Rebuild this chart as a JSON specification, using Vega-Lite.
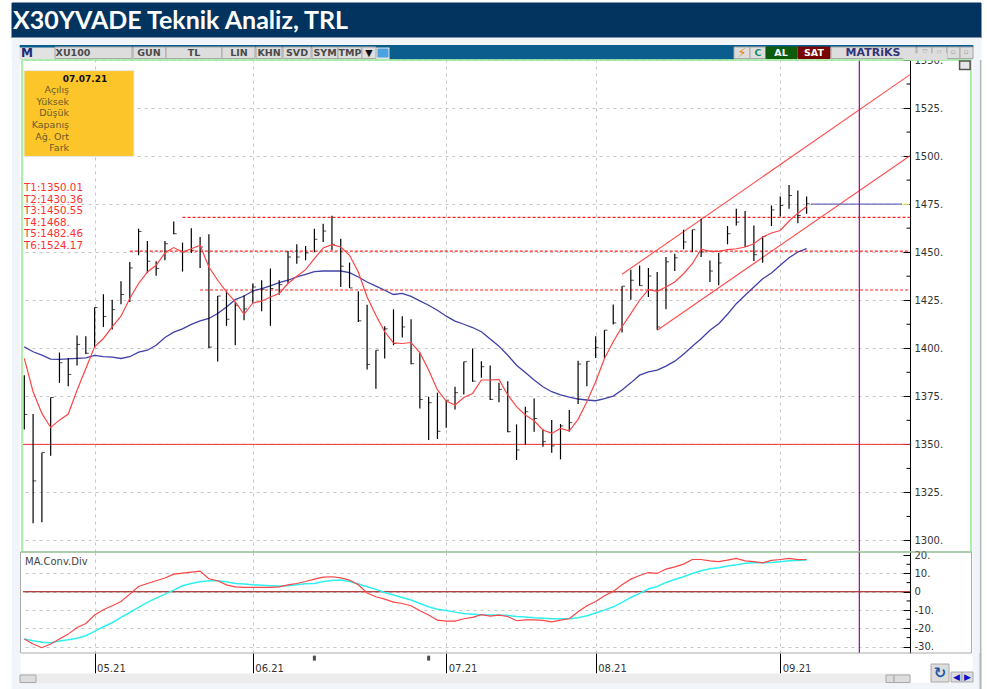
{"$schema":"https://vega.github.io/schema/vega-lite/v6.json","padding":{"left":11,"top":0,"right":7,"bottom":0},"background":"white","bounds":"flush","spacing":0,"resolve":{"scale":{"fill":"independent","stroke":"independent","color":"independent"}},"config":{"view":{"stroke":null},"concat":{"spacing":0},"axis":{"labelFont":"DejaVu Sans","labelFontSize":10,"labelColor":"#333333","labelBound":false,"labelFlush":false,"labelOverlap":false,"domainColor":"#000000","tickColor":"#000000","gridColor":"#c6c6c6","gridDash":[3,4]}},
"datasets":{
"bars":[
{"day":0,"high":1386,"low":1357.8,"close":1365.6,"fast":1394.7,"slow":1400.7,"macd":-25.8,"signal":-25.8},
{"day":1,"high":1365.8,"low":1309,"close":1331,"fast":1377.4,"slow":1398.2,"macd":-28.5,"signal":-26.7},
{"day":2,"high":1345.7,"low":1309.5,"close":1345.7,"fast":1366.1,"slow":1396.4,"macd":-30.5,"signal":-27.5},
{"day":3,"high":1374.4,"low":1344.1,"close":1374.4,"fast":1358.8,"slow":1394.4,"macd":-28.5,"signal":-27.8},
{"day":4,"high":1397.8,"low":1382,"close":1392.5,"fast":1362.6,"slow":1394.2,"macd":-25.8,"signal":-26.9},
{"day":5,"high":1395,"low":1380.3,"close":1386.4,"fast":1365.8,"slow":1394.5,"macd":-23.1,"signal":-26.2},
{"day":6,"high":1406.6,"low":1391,"close":1402,"fast":1378.2,"slow":1394.7,"macd":-19.5,"signal":-25.3},
{"day":7,"high":1406.3,"low":1397,"close":1397.4,"fast":1389.5,"slow":1395,"macd":-17.3,"signal":-24},
{"day":8,"high":1421.2,"low":1400.4,"close":1421.2,"fast":1400.8,"slow":1396.3,"macd":-12.7,"signal":-21.6},
{"day":9,"high":1428.1,"low":1411.1,"close":1416.5,"fast":1405.1,"slow":1395.7,"macd":-9.8,"signal":-19.1},
{"day":10,"high":1425.3,"low":1409.8,"close":1420.1,"fast":1411.1,"slow":1395.4,"macd":-7.6,"signal":-16.9},
{"day":11,"high":1434.9,"low":1422.9,"close":1428,"fast":1416.7,"slow":1394.7,"macd":-5.3,"signal":-14},
{"day":12,"high":1444.9,"low":1424.1,"close":1441.8,"fast":1425.9,"slow":1395.6,"macd":-1.3,"signal":-11.3},
{"day":13,"high":1462.2,"low":1448.4,"close":1460.8,"fast":1433.7,"slow":1398,"macd":2.9,"signal":-8.5},
{"day":14,"high":1455.8,"low":1439.2,"close":1445.3,"fast":1439.7,"slow":1399,"macd":4.5,"signal":-5.8},
{"day":15,"high":1445.3,"low":1437.8,"close":1441.6,"fast":1443.2,"slow":1401.6,"macd":6,"signal":-3.5},
{"day":16,"high":1455.8,"low":1445.8,"close":1454.4,"fast":1449.6,"slow":1405.6,"macd":7.5,"signal":-1.3},
{"day":17,"high":1466,"low":1459.3,"close":1459.6,"fast":1452.4,"slow":1408.4,"macd":9.6,"signal":0.9},
{"day":18,"high":1455,"low":1439.9,"close":1450.1,"fast":1450.1,"slow":1410.1,"macd":10.2,"signal":3.3},
{"day":19,"high":1462.4,"low":1449.6,"close":1451,"fast":1451.8,"slow":1412.4,"macd":10.7,"signal":4.5},
{"day":20,"high":1457.9,"low":1441.8,"close":1452.7,"fast":1453.6,"slow":1414.2,"macd":11.3,"signal":5.5},
{"day":21,"high":1459.3,"low":1400.2,"close":1400.6,"fast":1442.3,"slow":1415.5,"macd":7.1,"signal":6},
{"day":22,"high":1427.2,"low":1393.1,"close":1427.2,"fast":1435.4,"slow":1418.1,"macd":6,"signal":6},
{"day":23,"high":1429.9,"low":1411.7,"close":1415.1,"fast":1429.3,"slow":1421.5,"macd":3.8,"signal":5.5},
{"day":24,"high":1424.1,"low":1401.6,"close":1422.4,"fast":1424.1,"slow":1425.3,"macd":2.7,"signal":4.5},
{"day":25,"high":1427.6,"low":1414.6,"close":1420.5,"fast":1417.7,"slow":1427.2,"macd":2.4,"signal":4.2},
{"day":26,"high":1433.7,"low":1423.3,"close":1431.9,"fast":1423.6,"slow":1429.8,"macd":2.4,"signal":3.8},
{"day":27,"high":1435.4,"low":1419.3,"close":1430.7,"fast":1424.5,"slow":1431.1,"macd":2.4,"signal":3.6},
{"day":28,"high":1441.5,"low":1411.7,"close":1431.1,"fast":1426.7,"slow":1432.5,"macd":2.4,"signal":3.3},
{"day":29,"high":1435.4,"low":1427.9,"close":1433.1,"fast":1428.5,"slow":1434.2,"macd":2.7,"signal":3.1},
{"day":30,"high":1450.6,"low":1433.7,"close":1447.5,"fast":1433.7,"slow":1435.4,"macd":3.8,"signal":3.3},
{"day":31,"high":1454.1,"low":1444,"close":1447.5,"fast":1437.5,"slow":1437.1,"macd":4.5,"signal":3.8},
{"day":32,"high":1453.2,"low":1445.8,"close":1449.6,"fast":1440.9,"slow":1438.5,"macd":5.6,"signal":4.4},
{"day":33,"high":1462.2,"low":1450.1,"close":1456.7,"fast":1446.6,"slow":1439.9,"macd":6.9,"signal":4.5},
{"day":34,"high":1464.8,"low":1455.3,"close":1461,"fast":1452.2,"slow":1440.2,"macd":8,"signal":5.6},
{"day":35,"high":1469,"low":1451,"close":1454.1,"fast":1453.9,"slow":1440.2,"macd":8.2,"signal":6.2},
{"day":36,"high":1457,"low":1431.9,"close":1442.7,"fast":1452.7,"slow":1440.2,"macd":7.6,"signal":6.4},
{"day":37,"high":1444.6,"low":1431.4,"close":1431.4,"fast":1448.4,"slow":1439.4,"macd":6.4,"signal":5.6},
{"day":38,"high":1429.7,"low":1413.7,"close":1414.3,"fast":1439.7,"slow":1437.1,"macd":3.8,"signal":4.2},
{"day":39,"high":1422.7,"low":1389,"close":1391.6,"fast":1426.7,"slow":1434.5,"macd":-0.7,"signal":2.7},
{"day":40,"high":1399,"low":1379,"close":1399,"fast":1417.2,"slow":1432.3,"macd":-2.7,"signal":1.3},
{"day":41,"high":1411.5,"low":1394.7,"close":1410.1,"fast":1408.6,"slow":1430.2,"macd":-4,"signal":-0.4},
{"day":42,"high":1420.3,"low":1401.6,"close":1402.5,"fast":1402.8,"slow":1428,"macd":-5.6,"signal":-1.8},
{"day":43,"high":1416.7,"low":1405.6,"close":1411.1,"fast":1402.5,"slow":1428.6,"macd":-6.4,"signal":-3.1},
{"day":44,"high":1415.1,"low":1391.7,"close":1392,"fast":1403,"slow":1427,"macd":-7.6,"signal":-4.5},
{"day":45,"high":1397.7,"low":1368.7,"close":1373.4,"fast":1397.7,"slow":1424.7,"macd":-10.4,"signal":-6.4},
{"day":46,"high":1374.8,"low":1352.3,"close":1371.7,"fast":1388.7,"slow":1422.4,"macd":-12.7,"signal":-8.2},
{"day":47,"high":1376.9,"low":1352.8,"close":1356.8,"fast":1378.3,"slow":1419.8,"macd":-15.5,"signal":-9.5},
{"day":48,"high":1373,"low":1358.7,"close":1373,"fast":1372.5,"slow":1416.7,"macd":-16,"signal":-10.2},
{"day":49,"high":1380,"low":1368.2,"close":1376.9,"fast":1370.5,"slow":1414.1,"macd":-16,"signal":-11.1},
{"day":50,"high":1393,"low":1376,"close":1393,"fast":1374.4,"slow":1412.5,"macd":-14.7,"signal":-11.8},
{"day":51,"high":1399.9,"low":1382.6,"close":1382.9,"fast":1376.5,"slow":1410.8,"macd":-14,"signal":-12.2},
{"day":52,"high":1393.2,"low":1384.7,"close":1390.4,"fast":1383.5,"slow":1408.6,"macd":-12.5,"signal":-12.5},
{"day":53,"high":1391.1,"low":1373.1,"close":1373.4,"fast":1383.5,"slow":1404.8,"macd":-13.3,"signal":-12.7},
{"day":54,"high":1382.1,"low":1371.9,"close":1378.6,"fast":1383.8,"slow":1401.1,"macd":-12.7,"signal":-12.7},
{"day":55,"high":1382.9,"low":1356.3,"close":1356.6,"fast":1375.7,"slow":1396.4,"macd":-13.5,"signal":-12.9},
{"day":56,"high":1360.4,"low":1341.9,"close":1347.1,"fast":1369.6,"slow":1391.2,"macd":-15.8,"signal":-13.5},
{"day":57,"high":1369.6,"low":1350,"close":1367,"fast":1365.3,"slow":1387.4,"macd":-15.3,"signal":-13.8},
{"day":58,"high":1373.9,"low":1356.6,"close":1363.5,"fast":1362.3,"slow":1383.5,"macd":-15.3,"signal":-14.2},
{"day":59,"high":1358,"low":1348.8,"close":1351.4,"fast":1357.5,"slow":1380,"macd":-15.6,"signal":-14.4},
{"day":60,"high":1362.7,"low":1345.7,"close":1349.2,"fast":1355.7,"slow":1377.4,"macd":-16.4,"signal":-14.7},
{"day":61,"high":1360.6,"low":1342.2,"close":1359.6,"fast":1358.3,"slow":1375.8,"macd":-15.5,"signal":-14.7},
{"day":62,"high":1367.9,"low":1356.6,"close":1361.3,"fast":1357,"slow":1374.6,"macd":-14.7,"signal":-14.7},
{"day":63,"high":1393.5,"low":1371,"close":1391.8,"fast":1363,"slow":1373.6,"macd":-10.9,"signal":-14.2},
{"day":64,"high":1393.2,"low":1380.3,"close":1393.2,"fast":1372.2,"slow":1373.1,"macd":-7.6,"signal":-13.1},
{"day":65,"high":1406.2,"low":1395,"close":1400.3,"fast":1382.6,"slow":1372.7,"macd":-5.3,"signal":-11.6},
{"day":66,"high":1409.4,"low":1394.7,"close":1409.4,"fast":1394.7,"slow":1373.8,"macd":-2.2,"signal":-10},
{"day":67,"high":1422.8,"low":1412.4,"close":1413.2,"fast":1403.4,"slow":1375.1,"macd":0.2,"signal":-8.2},
{"day":68,"high":1432.3,"low":1408.2,"close":1432.3,"fast":1411.2,"slow":1378.3,"macd":3.8,"signal":-5.8},
{"day":69,"high":1440.9,"low":1425.3,"close":1435.4,"fast":1418,"slow":1382,"macd":6.9,"signal":-3.1},
{"day":70,"high":1443.1,"low":1432.6,"close":1432.6,"fast":1425,"slow":1386,"macd":8.9,"signal":-0.9},
{"day":71,"high":1441.8,"low":1426.7,"close":1437.6,"fast":1430.5,"slow":1387.7,"macd":10.5,"signal":1.5},
{"day":72,"high":1439.7,"low":1409.7,"close":1411.1,"fast":1429.6,"slow":1388.6,"macd":10,"signal":2.9},
{"day":73,"high":1447.5,"low":1420.3,"close":1445,"fast":1431.9,"slow":1390.7,"macd":12.4,"signal":5.1},
{"day":74,"high":1449.2,"low":1440.2,"close":1447.1,"fast":1434.5,"slow":1393.3,"macd":13.6,"signal":6.7},
{"day":75,"high":1461.7,"low":1451.5,"close":1455.3,"fast":1438.8,"slow":1396.9,"macd":15.1,"signal":8.2},
{"day":76,"high":1461.7,"low":1450.1,"close":1461.7,"fast":1444,"slow":1401.1,"macd":17.6,"signal":10},
{"day":77,"high":1467.4,"low":1447.5,"close":1450.1,"fast":1451.6,"slow":1405,"macd":17.6,"signal":11.5},
{"day":78,"high":1445.7,"low":1434.5,"close":1440.2,"fast":1450.4,"slow":1409.4,"macd":16.9,"signal":12.5},
{"day":79,"high":1449.6,"low":1432.8,"close":1444.4,"fast":1450.4,"slow":1412.8,"macd":16.5,"signal":13.1},
{"day":80,"high":1463.6,"low":1454.1,"close":1459.6,"fast":1451.3,"slow":1417.7,"macd":17.3,"signal":14},
{"day":81,"high":1472.6,"low":1463.9,"close":1465.7,"fast":1451.8,"slow":1423.2,"macd":18.2,"signal":14.7},
{"day":82,"high":1471.4,"low":1452.7,"close":1453,"fast":1452.7,"slow":1427.6,"macd":16.9,"signal":15.5},
{"day":83,"high":1463.9,"low":1445.4,"close":1448.7,"fast":1454.4,"slow":1431.9,"macd":16.4,"signal":15.8},
{"day":84,"high":1458.2,"low":1444.5,"close":1458.2,"fast":1457.9,"slow":1436.2,"macd":15.8,"signal":15.8},
{"day":85,"high":1474.3,"low":1463.6,"close":1472,"fast":1460,"slow":1439.2,"macd":17.1,"signal":16},
{"day":86,"high":1479,"low":1468.6,"close":1474.3,"fast":1461.3,"slow":1443.2,"macd":17.6,"signal":16.4},
{"day":87,"high":1485,"low":1472.6,"close":1479.5,"fast":1466.2,"slow":1447.1,"macd":18.2,"signal":16.9},
{"day":88,"high":1482.1,"low":1465.1,"close":1469.1,"fast":1470.3,"slow":1450.1,"macd":17.5,"signal":17.1},
{"day":89,"high":1479,"low":1470,"close":1475.2,"fast":1473.8,"slow":1451.8,"macd":17.6,"signal":17.3}
],
"supports":[{"name":"T2","level":1430.36,"from":20,"to":100.76},{"name":"T3","level":1450.55,"from":12,"to":100.76},{"name":"T4","level":1468.1,"from":18,"to":100.76}],
"base":[{"name":"T1","level":1350.01,"from":-0.148,"to":100.76}],
"trend":[{"line":"upper","day":68,"price":1438.5},{"line":"upper","day":100.76,"price":1542.4},{"line":"lower","day":72,"price":1409.4},{"line":"lower","day":100.76,"price":1500.2}],
"minorPrice":[{"v":1312.5},{"v":1337.5},{"v":1362.5},{"v":1387.5},{"v":1412.5},{"v":1437.5},{"v":1462.5},{"v":1487.5},{"v":1512.5},{"v":1537.5}],
"minorMacd":[{"v":15},{"v":5},{"v":-5},{"v":-15},{"v":-25}],
"sides":[{"from":-1.4,"to":-0.49},{"from":107.9,"to":108.75}],
"edge":[{"day":108.8}],
"marker":[{"day":33},{"day":46}],
"topRects":[
{"k":"banner","x0":11,"x1":980,"y0":3,"y1":38},
{"k":"page","x0":11,"x1":980,"y0":38,"y1":60},
{"k":"bar","x0":19,"x1":972,"y0":46,"y1":59},
{"k":"teal","x0":19,"x1":972,"y0":45.5,"y1":47},
{"k":"teal","x0":389,"x1":733,"y0":47,"y1":59},
{"k":"button","x0":54,"x1":131,"y0":47,"y1":58.5},
{"k":"button","x0":132,"x1":165,"y0":47,"y1":58.5},
{"k":"button","x0":165,"x1":221,"y0":47,"y1":58.5},
{"k":"button","x0":221,"x1":254,"y0":47,"y1":58.5},
{"k":"button","x0":255,"x1":281,"y0":47,"y1":58.5},
{"k":"button","x0":282,"x1":310,"y0":47,"y1":58.5},
{"k":"button","x0":311,"x1":337,"y0":47,"y1":58.5},
{"k":"button","x0":337,"x1":361,"y0":47,"y1":58.5},
{"k":"button","x0":361,"x1":375,"y0":47,"y1":58.5},
{"k":"sky","x0":377,"x1":387,"y0":49,"y1":57},
{"k":"button","x0":733,"x1":749,"y0":47,"y1":58.5},
{"k":"button","x0":749,"x1":765,"y0":47,"y1":58.5},
{"k":"al","x0":765,"x1":796,"y0":47,"y1":58.5},
{"k":"sat","x0":797,"x1":829,"y0":47,"y1":58.5},
{"k":"button","x0":830,"x1":915,"y0":47,"y1":58.5},
{"k":"button","x0":916,"x1":931,"y0":47,"y1":58.5},
{"k":"button","x0":931,"x1":946,"y0":47,"y1":58.5},
{"k":"button","x0":946,"x1":959,"y0":47,"y1":58.5},
{"k":"button","x0":959,"x1":972,"y0":47,"y1":58.5}
],
"topLabels":[
{"label":"XU100","x":72,"y":53.3,"k":"dark"},{"label":"GUN","x":148,"y":53.3,"k":"dark"},{"label":"TL","x":193,"y":53.3,"k":"dark"},{"label":"LIN","x":238,"y":53.3,"k":"dark"},{"label":"KHN","x":268,"y":53.3,"k":"dark"},{"label":"SVD","x":296,"y":53.3,"k":"dark"},{"label":"SYM","x":324,"y":53.3,"k":"dark"},{"label":"TMP","x":349,"y":53.3,"k":"dark"},{"label":"▼","x":368,"y":53.3,"k":"black"},{"label":"C","x":757,"y":53.3,"k":"green"},{"label":"AL","x":780,"y":53.3,"k":"white"},{"label":"SAT","x":813,"y":53.3,"k":"white"}],
"windowGlyphs":[{"label":"▽","x":924},{"label":"▫","x":938},{"label":"▫","x":952},{"label":"▫","x":965}],
"bottomRects":[
{"k":"page","x0":11,"x1":19,"y0":653,"y1":689},
{"k":"page","x0":972,"x1":979,"y0":653,"y1":689},
{"k":"page","x0":19,"x1":972,"y0":683,"y1":689},
{"k":"scroll","x0":19,"x1":909,"y0":674,"y1":683},
{"k":"btn","x0":19,"x1":35,"y0":675,"y1":682.5},
{"k":"btn","x0":885,"x1":893,"y0":675,"y1":682.5},
{"k":"btn","x0":893,"x1":909,"y0":675,"y1":682.5},
{"k":"btn","x0":930,"x1":948,"y0":664,"y1":682},
{"k":"btn","x0":950,"x1":961,"y0":672,"y1":682},
{"k":"btn","x0":961,"x1":972,"y0":672,"y1":682},
{"k":"line","x0":979,"x1":980,"y0":653,"y1":689}
],
"bottomLabels":[{"label":"◀","x":955.5,"y":677,"k":"arrow"},{"label":"▶","x":966.5,"y":677,"k":"arrow"}]
},
"vconcat":[
{"width":887,"height":60,"layer":[
{"data":{"name":"topRects"},"mark":{"type":"rect","strokeWidth":1},"encoding":{
"x":{"field":"x0","type":"quantitative","scale":{"domain":[22,909],"nice":false,"zero":false},"axis":null},"x2":{"field":"x1"},
"y":{"field":"y0","type":"quantitative","scale":{"domain":[60,0],"nice":false,"zero":false},"axis":null},"y2":{"field":"y1"},
"fill":{"field":"k","type":"nominal","legend":null,"scale":{"domain":["banner","page","bar","teal","button","sky","al","sat"],"range":["#03335f","#f1f4f8","#e2e2e2","#0a5d8c","#dddddd","#4aa3df","#0c5c0c","#760404"]}},
"stroke":{"field":"k","type":"nominal","legend":null,"scale":{"domain":["banner","page","bar","teal","button","sky","al","sat"],"range":["#03335f","#f1f4f8","#e2e2e2","#0a5d8c","#a8a8a8","#4aa3df","#0c5c0c","#760404"]}}}},
{"data":{"name":"topLabels"},"mark":{"type":"text","font":"DejaVu Sans","fontWeight":"bold","fontSize":9.5,"baseline":"middle"},"encoding":{
"x":{"field":"x","type":"quantitative","scale":{"domain":[22,909],"nice":false,"zero":false},"axis":null},
"y":{"field":"y","type":"quantitative","scale":{"domain":[60,0],"nice":false,"zero":false},"axis":null},
"text":{"field":"label"},
"color":{"field":"k","type":"nominal","legend":null,"scale":{"domain":["dark","black","green","white"],"range":["#4a4a4a","#111111","#128a6a","#ffffff"]}}}},
{"data":{"name":"windowGlyphs"},"mark":{"type":"text","font":"DejaVu Sans","fontSize":7,"color":"#999999","baseline":"middle"},"encoding":{
"x":{"field":"x","type":"quantitative","scale":{"domain":[22,909],"nice":false,"zero":false},"axis":null},
"y":{"datum":51.5,"type":"quantitative","scale":{"domain":[60,0],"nice":false,"zero":false},"axis":null},
"text":{"field":"label"}}},
{"data":{"values":[{}]},"mark":{"type":"text","text":"⚡","font":"DejaVu Sans","fontSize":13,"color":"#e8860c","baseline":"middle"},"encoding":{"x":{"datum":741,"type":"quantitative","scale":{"domain":[22,909],"nice":false,"zero":false},"axis":null},"y":{"datum":53,"type":"quantitative","scale":{"domain":[60,0],"nice":false,"zero":false},"axis":null}}},
{"data":{"values":[{}]},"mark":{"type":"text","text":"X30YVADE Teknik Analiz, TRL","font":"Lato","fontWeight":"bold","fontSize":25,"color":"#ffffff","align":"left","baseline":"middle"},"encoding":{"x":{"datum":12,"type":"quantitative","scale":{"domain":[22,909],"nice":false,"zero":false},"axis":null},"y":{"datum":21,"type":"quantitative","scale":{"domain":[60,0],"nice":false,"zero":false},"axis":null}}},
{"data":{"values":[{}]},"mark":{"type":"text","text":"M","font":"DejaVu Sans","fontWeight":"bold","fontSize":12,"color":"#1c2a7a","baseline":"middle"},"encoding":{"x":{"datum":26,"type":"quantitative","scale":{"domain":[22,909],"nice":false,"zero":false},"axis":null},"y":{"datum":53,"type":"quantitative","scale":{"domain":[60,0],"nice":false,"zero":false},"axis":null}}},
{"data":{"values":[{}]},"mark":{"type":"text","text":"MATRiKS","font":"DejaVu Sans","fontWeight":"bold","fontSize":11,"color":"#33337a","baseline":"middle"},"encoding":{"x":{"datum":872,"type":"quantitative","scale":{"domain":[22,909],"nice":false,"zero":false},"axis":null},"y":{"datum":53,"type":"quantitative","scale":{"domain":[60,0],"nice":false,"zero":false},"axis":null}}}
]},
{"width":887,"height":492,"layer":[
{"data":{"name":"sides"},"mark":{"type":"rect","color":"#f1f4f8"},"encoding":{"x":{"field":"from","type":"quantitative","scale":{"domain":[-0.148,100.76],"nice":false,"zero":false},"axis":{"title":null,"orient":"top","values":[8,26,48,65,86],"labels":false,"ticks":false,"domain":false,"grid":true}},"x2":{"field":"to"},
"y":{"datum":1294,"type":"quantitative","scale":{"domain":[1294,1550],"nice":false,"zero":false},"axis":{"title":null,"orient":"right","values":[1300,1325,1350,1375,1400,1425,1450,1475,1500,1525,1550],"tickCount":20,"labelExpr":"datum.value+'.'","grid":true,"tickSize":-7,"labelPadding":11}},"y2":{"datum":1550}}},
{"data":{"name":"edge"},"mark":{"type":"rule","color":"#b5b5b5","strokeWidth":1.5},"encoding":{"x":{"field":"day","type":"quantitative","scale":{"domain":[-0.148,100.76],"nice":false,"zero":false}}}},
{"data":{"name":"base"},"mark":{"type":"rule","color":"#f03030","strokeWidth":1},"encoding":{"x":{"field":"from","type":"quantitative","scale":{"domain":[-0.148,100.76],"nice":false,"zero":false}},"x2":{"field":"to"},"y":{"field":"level","type":"quantitative","scale":{"domain":[1294,1550],"nice":false,"zero":false}}}},
{"data":{"name":"supports"},"mark":{"type":"rule","color":"#ff2020","strokeWidth":1.1,"strokeDash":[3,2]},"encoding":{"x":{"field":"from","type":"quantitative","scale":{"domain":[-0.148,100.76],"nice":false,"zero":false}},"x2":{"field":"to"},"y":{"field":"level","type":"quantitative","scale":{"domain":[1294,1550],"nice":false,"zero":false}}}},
{"data":{"name":"trend"},"mark":{"type":"line","color":"#ff4d4d","strokeWidth":1.1},"encoding":{"x":{"field":"day","type":"quantitative","scale":{"domain":[-0.148,100.76],"nice":false,"zero":false}},"y":{"field":"price","type":"quantitative","scale":{"domain":[1294,1550],"nice":false,"zero":false}},"detail":{"field":"line"}}},
{"data":{"name":"bars"},"mark":{"type":"line","color":"#4040a6","strokeWidth":1.3},"encoding":{"x":{"field":"day","type":"quantitative","scale":{"domain":[-0.148,100.76],"nice":false,"zero":false}},"y":{"field":"slow","type":"quantitative","scale":{"domain":[1294,1550],"nice":false,"zero":false}}}},
{"data":{"name":"bars"},"mark":{"type":"rule","color":"#000000","strokeWidth":1.2},"encoding":{"x":{"field":"day","type":"quantitative","scale":{"domain":[-0.148,100.76],"nice":false,"zero":false}},"y":{"field":"low","type":"quantitative","scale":{"domain":[1294,1550],"nice":false,"zero":false}},"y2":{"field":"high"}}},
{"data":{"name":"bars"},"mark":{"type":"tick","orient":"horizontal","color":"#000000","size":3,"thickness":1,"xOffset":1.5},"encoding":{"x":{"field":"day","type":"quantitative","scale":{"domain":[-0.148,100.76],"nice":false,"zero":false}},"y":{"field":"close","type":"quantitative","scale":{"domain":[1294,1550],"nice":false,"zero":false}}}},
{"data":{"name":"bars"},"mark":{"type":"line","color":"#fa4646","strokeWidth":1.2},"encoding":{"x":{"field":"day","type":"quantitative","scale":{"domain":[-0.148,100.76],"nice":false,"zero":false}},"y":{"field":"fast","type":"quantitative","scale":{"domain":[1294,1550],"nice":false,"zero":false}}}},
{"data":{"values":[{}]},"mark":{"type":"rule","color":"#6a6ab8","strokeWidth":1.3},"encoding":{"x":{"datum":89.5,"type":"quantitative","scale":{"domain":[-0.148,100.76],"nice":false,"zero":false}},"x2":{"datum":99.85},"y":{"datum":1475,"type":"quantitative","scale":{"domain":[1294,1550],"nice":false,"zero":false}}}},
{"data":{"values":[{}]},"mark":{"type":"rule","color":"#ffff99","strokeWidth":1.3},"encoding":{"x":{"datum":99.85,"type":"quantitative","scale":{"domain":[-0.148,100.76],"nice":false,"zero":false}},"x2":{"datum":100.7},"y":{"datum":1475,"type":"quantitative","scale":{"domain":[1294,1550],"nice":false,"zero":false}}}},
{"mark":{"type":"rule","color":"#000000","strokeWidth":1},"data":{"name":"minorPrice"},"encoding":{"x":{"datum":100.37,"type":"quantitative","scale":{"domain":[-0.148,100.76],"nice":false,"zero":false}},"x2":{"datum":100.76},"y":{"field":"v","type":"quantitative","scale":{"domain":[1294,1550],"nice":false,"zero":false}}}},
{"data":{"values":[{}]},"mark":{"type":"rule","color":"#a412a4","strokeWidth":1.3},"encoding":{"x":{"datum":95,"type":"quantitative","scale":{"domain":[-0.148,100.76],"nice":false,"zero":false}}}},
{"data":{"values":[{}]},"mark":{"type":"rect","fill":null,"filled":false,"stroke":"#98ec98","strokeWidth":1.6},"encoding":{"x":{"datum":-0.26,"type":"quantitative","scale":{"domain":[-0.148,100.76],"nice":false,"zero":false}},"x2":{"datum":107.7},"y":{"datum":1294,"type":"quantitative","scale":{"domain":[1294,1550],"nice":false,"zero":false}},"y2":{"datum":1550}}},
{"data":{"values":[{}]},"mark":{"type":"rect","fill":"#dddddd"},"encoding":{"x":{"datum":100.0,"type":"quantitative","scale":{"domain":[-0.148,100.76],"nice":false,"zero":false}},"x2":{"datum":105},"y":{"datum":1550,"type":"quantitative","scale":{"domain":[1294,1550],"nice":false,"zero":false}},"y2":{"datum":1553.5}}},
{"data":{"values":[{}]},"mark":{"type":"rect","fill":"#fcc62b","stroke":"#e6e6e6","strokeWidth":1},"encoding":{"x":{"datum":-0.03,"type":"quantitative","scale":{"domain":[-0.148,100.76],"nice":false,"zero":false}},"x2":{"datum":12.47},"y":{"datum":1499.8,"type":"quantitative","scale":{"domain":[1294,1550],"nice":false,"zero":false}},"y2":{"datum":1544.5}}},
{"data":{"values":[{}]},"mark":{"type":"rect","fill":"#e6e6e6","stroke":"#555555","strokeWidth":1.5},"encoding":{"x":{"datum":106.4,"type":"quantitative","scale":{"domain":[-0.148,100.76],"nice":false,"zero":false}},"x2":{"datum":107.6},"y":{"datum":1545,"type":"quantitative","scale":{"domain":[1294,1550],"nice":false,"zero":false}},"y2":{"datum":1549.5}}},
{"data":{"values":[{}]},"mark":{"type":"text","text":"07.07.21","font":"DejaVu Sans","fontWeight":"bold","fontSize":9,"color":"#111111","baseline":"middle"},"encoding":{"x":{"datum":6.9,"type":"quantitative","scale":{"domain":[-0.148,100.76],"nice":false,"zero":false}},"y":{"datum":1540.3,"type":"quantitative","scale":{"domain":[1294,1550],"nice":false,"zero":false}}}},
{"data":{"values":[{}]},"mark":{"type":"text","text":["Açılış","Yüksek","Düşük","Kapanış","Ağ. Ort","Fark"],"font":"DejaVu Sans","fontSize":9.5,"lineHeight":11.67,"color":"#6b5a2a","align":"right","baseline":"top"},"encoding":{"x":{"datum":5.09,"type":"quantitative","scale":{"domain":[-0.148,100.76],"nice":false,"zero":false}},"y":{"datum":1537,"type":"quantitative","scale":{"domain":[1294,1550],"nice":false,"zero":false}}}},
{"data":{"values":[{}]},"mark":{"type":"text","text":["T1:1350.01","T2:1430.36","T3:1450.55","T4:1468.","T5:1482.46","T6:1524.17"],"font":"DejaVu Sans","fontSize":10.3,"lineHeight":11.6,"color":"#ff3030","align":"left","baseline":"top"},"encoding":{"x":{"datum":-0.03,"type":"quantitative","scale":{"domain":[-0.148,100.76],"nice":false,"zero":false}},"y":{"datum":1486,"type":"quantitative","scale":{"domain":[1294,1550],"nice":false,"zero":false}}}}
]},
{"width":887,"height":101,"layer":[
{"data":{"name":"sides"},"mark":{"type":"rect","color":"#f1f4f8"},"encoding":{"x":{"field":"from","type":"quantitative","scale":{"domain":[-0.148,100.76],"nice":false,"zero":false},"axis":{"title":null,"orient":"bottom","values":[8,26,48,65,86],"labelExpr":"datum.value==8?'05.21':datum.value==26?'06.21':datum.value==48?'07.21':datum.value==65?'08.21':'09.21'","grid":true,"tickSize":20,"labelAlign":"left","labelBaseline":"middle","labelPadding":-5,"labelOffset":2,"domain":false}},"x2":{"field":"to"},
"y":{"datum":-33.4,"type":"quantitative","scale":{"domain":[-33.4,21.7],"nice":false,"zero":false},"axis":{"title":null,"orient":"right","values":[-30,-20,-10,0,10,20],"tickCount":12,"labelExpr":"datum.value==0?'0':datum.value+'.'","grid":true,"gridOpacity":{"condition":{"test":"datum.value===20","value":0},"value":1},"tickSize":-7,"labelPadding":11}},"y2":{"datum":21.7}}},
{"data":{"name":"edge"},"mark":{"type":"rule","color":"#b5b5b5","strokeWidth":1.5},"encoding":{"x":{"field":"day","type":"quantitative","scale":{"domain":[-0.148,100.76],"nice":false,"zero":false}}}},
{"data":{"values":[{}]},"mark":{"type":"rule","color":"#990000","strokeWidth":1},"encoding":{"x":{"datum":-0.148,"type":"quantitative","scale":{"domain":[-0.148,100.76],"nice":false,"zero":false}},"x2":{"datum":100.76},"y":{"datum":0,"type":"quantitative","scale":{"domain":[-33.4,21.7],"nice":false,"zero":false}}}},
{"data":{"name":"bars"},"mark":{"type":"line","color":"#2ff0f0","strokeWidth":1.5},"encoding":{"x":{"field":"day","type":"quantitative","scale":{"domain":[-0.148,100.76],"nice":false,"zero":false}},"y":{"field":"signal","type":"quantitative","scale":{"domain":[-33.4,21.7],"nice":false,"zero":false}}}},
{"data":{"name":"bars"},"mark":{"type":"line","color":"#fa4646","strokeWidth":1.2},"encoding":{"x":{"field":"day","type":"quantitative","scale":{"domain":[-0.148,100.76],"nice":false,"zero":false}},"y":{"field":"macd","type":"quantitative","scale":{"domain":[-33.4,21.7],"nice":false,"zero":false}}}},
{"data":{"name":"minorMacd"},"mark":{"type":"rule","color":"#000000","strokeWidth":1},"encoding":{"x":{"datum":100.37,"type":"quantitative","scale":{"domain":[-0.148,100.76],"nice":false,"zero":false}},"x2":{"datum":100.76},"y":{"field":"v","type":"quantitative","scale":{"domain":[-33.4,21.7],"nice":false,"zero":false}}}},
{"data":{"values":[{}]},"mark":{"type":"rule","color":"#a412a4","strokeWidth":1.3},"encoding":{"x":{"datum":95,"type":"quantitative","scale":{"domain":[-0.148,100.76],"nice":false,"zero":false}}}},
{"data":{"values":[{}]},"mark":{"type":"rect","fill":null,"filled":false,"stroke":"#aaaaaa","strokeWidth":1},"encoding":{"x":{"datum":-0.43,"type":"quantitative","scale":{"domain":[-0.148,100.76],"nice":false,"zero":false}},"x2":{"datum":107.76},"y":{"datum":-33.4,"type":"quantitative","scale":{"domain":[-33.4,21.7],"nice":false,"zero":false}},"y2":{"datum":21.7}}},
{"data":{"name":"marker"},"mark":{"type":"tick","orient":"vertical","color":"#000000","size":5,"thickness":3},"encoding":{"x":{"field":"day","type":"quantitative","scale":{"domain":[-0.148,100.76],"nice":false,"zero":false}},"y":{"datum":-36.2,"type":"quantitative","scale":{"domain":[-33.4,21.7],"nice":false,"zero":false}}}},
{"data":{"values":[{}]},"mark":{"type":"text","text":"MA.Conv.Div","font":"DejaVu Sans","fontSize":10,"color":"#444444","align":"left","baseline":"middle"},"encoding":{"x":{"datum":0.08,"type":"quantitative","scale":{"domain":[-0.148,100.76],"nice":false,"zero":false}},"y":{"datum":16.2,"type":"quantitative","scale":{"domain":[-33.4,21.7],"nice":false,"zero":false}}}}
]},
{"width":887,"height":36,"layer":[
{"data":{"name":"bottomRects"},"mark":{"type":"rect"},"encoding":{
"x":{"field":"x0","type":"quantitative","scale":{"domain":[22,909],"nice":false,"zero":false},"axis":null},"x2":{"field":"x1"},
"y":{"field":"y0","type":"quantitative","scale":{"domain":[689,653],"nice":false,"zero":false},"axis":null},"y2":{"field":"y1"},
"fill":{"field":"k","type":"nominal","legend":null,"scale":{"domain":["page","scroll","btn","line"],"range":["#f1f4f8","#ececec","#dddddd","#b5b5b5"]}},
"stroke":{"field":"k","type":"nominal","legend":null,"scale":{"domain":["page","scroll","btn","line"],"range":["#f1f4f8","#ececec","#a8a8a8","#b5b5b5"]}}}},
{"data":{"name":"bottomLabels"},"mark":{"type":"text","font":"DejaVu Sans","fontWeight":"bold","baseline":"middle","fontSize":9,"color":"#1010c8"},"encoding":{
"x":{"field":"x","type":"quantitative","scale":{"domain":[22,909],"nice":false,"zero":false},"axis":null},
"y":{"field":"y","type":"quantitative","scale":{"domain":[689,653],"nice":false,"zero":false},"axis":null},
"text":{"field":"label"}}},
{"data":{"values":[{}]},"mark":{"type":"text","text":"↻","font":"DejaVu Sans","fontWeight":"bold","fontSize":15,"color":"#1c5aa8","baseline":"middle"},"encoding":{"x":{"datum":939,"type":"quantitative","scale":{"domain":[22,909],"nice":false,"zero":false},"axis":null},"y":{"datum":673,"type":"quantitative","scale":{"domain":[689,653],"nice":false,"zero":false},"axis":null}}}
]}
]}
